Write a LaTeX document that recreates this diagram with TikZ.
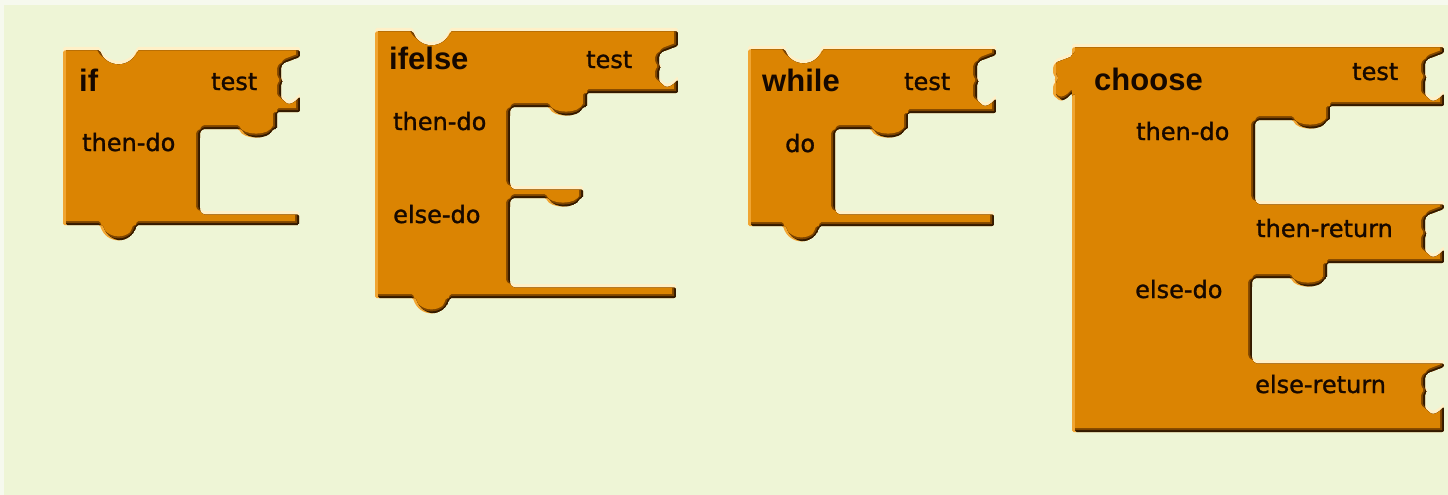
\documentclass[tikz,border=0pt]{standalone}
\usepackage{fontspec}
\setmainfont{DejaVu Sans}
\newfontfamily\titlefont{Liberation Sans}
\newfontfamily\lblfont{DejaVu Sans}[FakeBold=1.2]
\definecolor{bgc}{RGB}{238,245,214}
\definecolor{bgedge}{RGB}{246,249,238}
\definecolor{blk}{RGB}{219,132,2}
\definecolor{hil}{RGB}{255,240,200}
\definecolor{hilo}{RGB}{240,165,50}
\definecolor{shd}{RGB}{50,25,0}
\definecolor{shdm}{RGB}{125,68,0}
\definecolor{txtc}{RGB}{22,8,0}
\tikzset{
  topnotch/.style 2 args={insert path={-- (#1,#2) .. controls ({#1+6},{#2+18}) and ({#1+31},{#2+18}) .. ({#1+37},#2)}},
  btab/.style 2 args={insert path={-- (#1,#2) .. controls ({#1-6},{#2+20}) and ({#1-31},{#2+20}) .. ({#1-37},#2)}},
  mtab/.style 2 args={insert path={-- (#1,#2) .. controls ({#1-4},{#2+11}) and ({#1-30},{#2+11}) .. ({#1-34},#2)}},
  sock/.style n args={3}{insert path={-- (#1,#2) -- ({#1-16},{#2+6}) -- ({#1-19},{#2+10}) -- ({#1-19},{(#2+#3)/2-4}) -- ({#1-16},{(#2+#3)/2}) -- ({#1-19},{(#2+#3)/2+4}) -- ({#1-19},{#3-8}) -- ({#1-12},{#3-2}) -- ({#1-6},{#3-4}) -- (#1,{#3-10}) -- (#1,#3)}},
  plug/.style n args={3}{insert path={-- (#1,#2) -- (#1,{#2-10}) -- ({#1-6},{#2-4}) -- ({#1-12},{#2-2}) -- ({#1-19},{#2-8}) -- ({#1-19},{(#2+#3)/2+4}) -- ({#1-16},{(#2+#3)/2}) -- ({#1-19},{(#2+#3)/2-4}) -- ({#1-19},{#3+10}) -- ({#1-16},{#3+6}) -- (#1,#3)}},
  lbl/.style={font=\lblfont\fontsize{24}{26}\selectfont, text=txtc, anchor=base west, inner sep=0pt},
  ttl/.style={font=\titlefont\bfseries\fontsize{31}{33}\selectfont, text=txtc, anchor=base west, inner sep=0pt},
}
\newcommand\drawblock[1]{%
\begin{scope}[rounded corners=1.5pt]
 \clip #1;
 \fill[hil] #1;
 \begin{scope}
  \clip[shift={(0,3.5)}] #1;
  \fill[hilo] #1;
  \begin{scope}
   \clip[shift={(3,0)}] #1;
   \fill[shd] #1;
   \begin{scope}
    \clip[shift={(0,-2)}] #1;
    \clip[shift={(-2,0)}] #1;
    \fill[shdm] #1;
    \clip[shift={(0,-4)}] #1;
    \clip[shift={(-4,0)}] #1;
    \fill[blk] #1;
   \end{scope}
  \end{scope}
 \end{scope}
\end{scope}}
\begin{document}
\begin{tikzpicture}[x=1pt, y=-1pt]
\useasboundingbox (0,0) rectangle (1448,495);
\fill[bgedge] (0,0) rectangle (1448,495);
\fill[bgc] (4,5) rectangle (1448,495);

% if
\drawblock{(63,47) [topnotch={100}{47}] -- (300,47) [sock={300}{57}{103}] -- (300,112) -- (277,112) -- (277,129) [mtab={273}{129}] -- (203,129) -- (200,132) -- (200,208) -- (203,211) -- (299,211) -- (299,225) [btab={137}{225}] -- (63,225) -- cycle}
\node[ttl] (if-t) at (79,92) {if};
\node[lbl] (if-test) at (211,90) {test};
\node[lbl] (if-then) at (82,151) {then-do};

% ifelse
\drawblock{(375,28) [topnotch={413}{28}] -- (678,28) [sock={678}{46}{86}] -- (678,93) -- (587,93) -- (587,107) [mtab={583}{107}] -- (513,107) -- (510,110) -- (510,182) -- (513,186) -- (583,186) -- (583,198) [mtab={580}{198}] -- (513,198) -- (510,201) -- (510,281) -- (513,284) -- (676,284) -- (676,298) [btab={450}{298}] -- (375,298) -- cycle}
\node[ttl] (ie-t) at (389,70) {ifelse};
\node[lbl] (ie-test) at (586,68) {test};
\node[lbl] (ie-then) at (393,130) {then-do};
\node[lbl] (ie-else) at (393,223) {else-do};

% while
\drawblock{(748,46) [topnotch={785}{46}] -- (996,46) [sock={996}{55}{105}] -- (996,113) -- (908,113) -- (908,129) [mtab={905}{129}] -- (838,129) -- (835,132) -- (835,207) -- (838,211) -- (994,211) -- (994,226) [btab={820}{226}] -- (748,226) -- cycle}
\node[ttl] (wh-t) at (762,92) {while};
\node[lbl] (wh-test) at (904,90) {test};
\node[lbl] (wh-do) at (785,152) {do};

% choose
\drawblock{(1072,44) -- (1444,44) [sock={1444}{53}{100}] -- (1444,106) -- (1330,106) -- (1330,120) [mtab={1327}{120}] -- (1258,120) -- (1255,123) -- (1255,197) -- (1258,201) -- (1444,201) [sock={1444}{209}{256}] -- (1444,263) -- (1327,263) -- (1327,278) [mtab={1325}{278}] -- (1255,278) -- (1252,281) -- (1252,356) -- (1255,360) -- (1444,360) [sock={1444}{367}{413}] -- (1444,432) -- (1072,432) [plug={1072}{103}{53}] -- cycle}
\node[ttl] (ch-t) at (1094,90) {choose};
\node[lbl] (ch-test) at (1352,80) {test};
\node[lbl] (ch-then) at (1136,140) {then-do};
\node[lbl] (ch-thenr) at (1256,237) {then-return};
\node[lbl] (ch-else) at (1135,298) {else-do};
\node[lbl] (ch-elser) at (1255,393) {else-return};
\end{tikzpicture}
\end{document}
